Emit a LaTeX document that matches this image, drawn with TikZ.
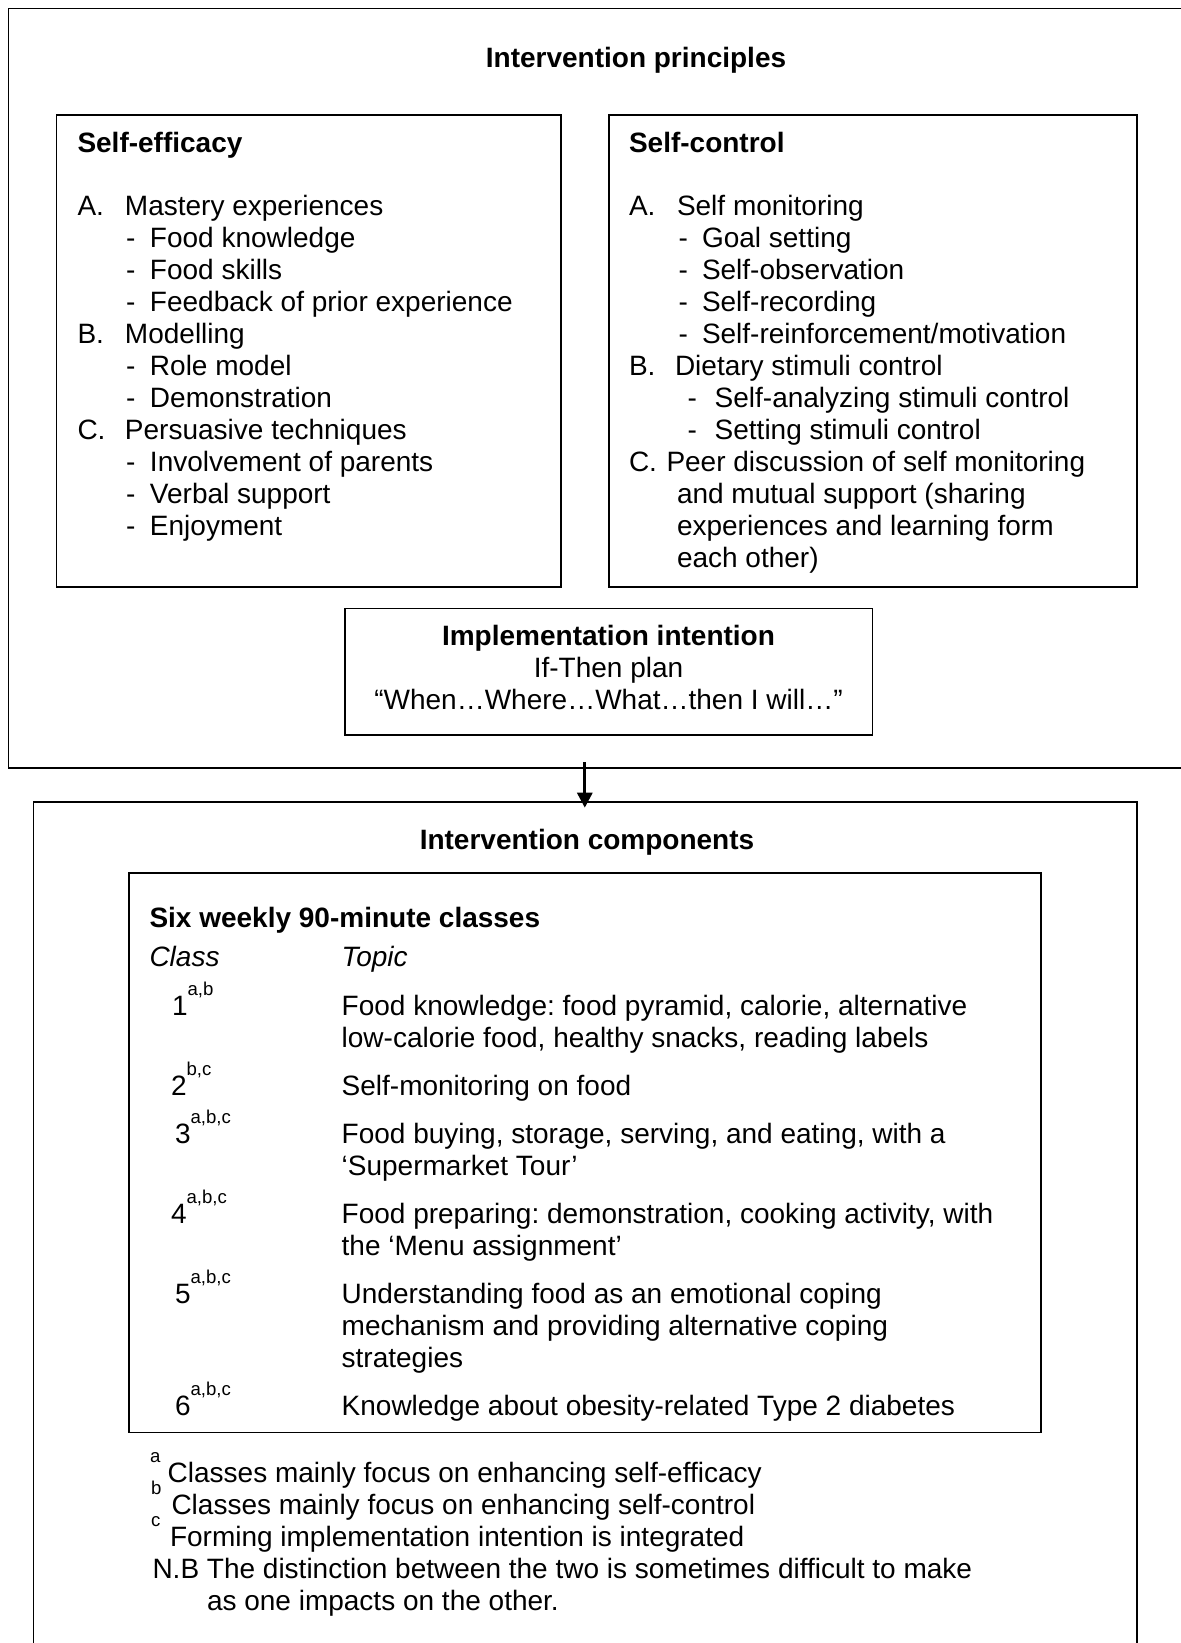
\documentclass[tikz,border=0pt]{standalone}
\usepackage{fontspec}
\setmainfont{Liberation Sans}
\usetikzlibrary{arrows.meta}
\frenchspacing
\newcommand\fs{\fontsize{14pt}{16pt}\selectfont}
\newcommand\supfont{\fontsize{9.3pt}{10pt}\selectfont}
\newcommand\sups[1]{\raisebox{10pt}{\supfont #1}}
% left box line helpers
\newcommand\lA[2]{\hbox{\makebox[23.75pt][l]{#1}#2}}
\newcommand\lAd[1]{\hbox{\hspace{24.25pt}\makebox[12pt][l]{-}#1}}
% right box line helpers
\newcommand\rA[2]{\hbox{\makebox[24pt][l]{#1}#2}}
\newcommand\rAd[1]{\hbox{\hspace{24.75pt}\makebox[11.75pt][l]{-}#1}}
\newcommand\rB[2]{\hbox{\makebox[23pt][l]{#1}#2}}
\newcommand\rBd[1]{\hbox{\hspace{29.25pt}\makebox[13.6pt][l]{-}#1}}
\newcommand\rC[2]{\hbox{\makebox[18.75pt][l]{#1}#2}}
\newcommand\rCc[1]{\hbox{\hspace{24pt}#1}}
\begin{document}
\begin{tikzpicture}[x=0.5pt,y=-0.5pt,
  frame/.style={draw, line width=0.85pt, rectangle, inner sep=0pt, outer sep=0pt, anchor=north west},
  txt/.style={anchor=base west, inner sep=0pt, outer sep=0pt, font=\fs},
  ctxt/.style={anchor=base, inner sep=0pt, outer sep=0pt, font=\fs},
  arr/.style={line width=1.5pt, -{Triangle[width=7.5pt,length=7.5pt]}}]
\useasboundingbox (0,0) rectangle (1180,1643);
\fill[white] (0,0) rectangle (1180,1643);

% frames
\node[frame, minimum width=629.8pt, minimum height=379.8pt] (outer) at (8.4,8.4) {};
\node[frame, minimum width=252.1pt, minimum height=235.85pt] (selfeff) at (56.5,115.3) {};
\node[frame, minimum width=264.15pt, minimum height=235.85pt] (selfctl) at (608.9,115.3) {};
\node[frame, minimum width=263.85pt, minimum height=63.25pt] (impl) at (344.8,608.5) {};
\node[frame, minimum width=551.85pt, minimum height=449.15pt] (lower) at (33.5,801.7) {};
\node[frame, minimum width=455.95pt, minimum height=279.8pt] (inner) at (128.8,873) {};

% arrow (starts just inside the upper frame, tip just past the lower frame's top)
\coordinate (ax) at (584.8,0);
\draw[arr] ([yshift=3pt]outer.south -| ax) -- ([yshift=-3pt]lower.north -| ax);

% top section
\node[ctxt, font=\fs\bfseries] (title) at (636,68) {Intervention principles};

\node[txt, font=\fs\bfseries] (setitle) at (77.5,152) {Self-efficacy};
\node[txt] (sebody) at (77.5,215) {\vtop{%
  \lA{A.}{Mastery experiences}
  \lAd{Food knowledge}
  \lAd{Food skills}
  \lAd{Feedback of prior experience}
  \lA{B.}{Modelling}
  \lAd{Role model}
  \lAd{Demonstration}
  \lA{C.}{Persuasive techniques}
  \lAd{Involvement of parents}
  \lAd{Verbal support}
  \lAd{Enjoyment}}};

\node[txt, font=\fs\bfseries] (sctitle) at (629,152) {Self-control};
\node[txt] (scbody) at (629,215) {\vtop{%
  \rA{A.}{Self monitoring}
  \rAd{Goal setting}
  \rAd{Self-observation}
  \rAd{Self-recording}
  \rAd{Self-reinforcement/motivation}
  \rB{B.}{Dietary stimuli control}
  \rBd{Self-analyzing stimuli control}
  \rBd{Setting stimuli control}
  \rC{C.}{Peer discussion of self monitoring}
  \rCc{and mutual support (sharing}
  \rCc{experiences and learning form}
  \rCc{each other)}}};

\node[ctxt, font=\fs\bfseries] (it1) at (608.5,645) {Implementation intention};
\node[ctxt] (it2) at (608.5,677) {If-Then plan};
\node[ctxt] (it3) at (608.5,709) {“When…Where…What…then I will…”};

% lower section
\node[ctxt, font=\fs\bfseries] (ctitle) at (587,849) {Intervention components};
\node[txt, font=\fs\bfseries] (six) at (149.5,927) {Six weekly 90-minute classes};
\node[txt, font=\fs\itshape] (hclass) at (149.5,966) {Class};
\node[txt, font=\fs\itshape] (htopic) at (341.7,966) {Topic};

\node[txt] (n1) at (172,1015.5) {1\sups{a,b}};
\node[txt] (t1) at (341.7,1015.5) {\vtop{\hbox{Food knowledge: food pyramid, calorie, alternative}\hbox{low-calorie food, healthy snacks, reading labels}}};
\node[txt] (n2) at (171,1095.5) {2\sups{b,c}};
\node[txt] (t2) at (341.7,1095.5) {Self-monitoring on food};
\node[txt] (n3) at (175,1143.5) {3\sups{a,b,c}};
\node[txt] (t3) at (341.7,1143.5) {\vtop{\hbox{Food buying, storage, serving, and eating, with a}\hbox{‘Supermarket Tour’}}};
\node[txt] (n4) at (171,1223.5) {4\sups{a,b,c}};
\node[txt] (t4) at (341.7,1223.5) {\vtop{\hbox{Food preparing: demonstration, cooking activity, with}\hbox{the ‘Menu assignment’}}};
\node[txt] (n5) at (175,1303.5) {5\sups{a,b,c}};
\node[txt] (t5) at (341.7,1303.5) {\vtop{\hbox{Understanding food as an emotional coping}\hbox{mechanism and providing alternative coping}\hbox{strategies}}};
\node[txt] (n6) at (175,1415.5) {6\sups{a,b,c}};
\node[txt] (t6) at (341.7,1415.5) {Knowledge about obesity-related Type 2 diabetes};

% footnotes
\node[txt, font=\supfont] (fa) at (150,1462) {a};
\node[txt] (f1) at (167.7,1482) {Classes mainly focus on enhancing self-efficacy};
\node[txt, font=\supfont] (fb) at (151,1494) {b};
\node[txt] (f2) at (171.5,1514) {Classes mainly focus on enhancing self-control};
\node[txt, font=\supfont] (fc) at (151,1526) {c};
\node[txt] (f3) at (170,1546) {Forming implementation intention is integrated};
\node[txt] (f4) at (152.5,1578) {N.B The distinction between the two is sometimes difficult to make};
\node[txt] (f5) at (207,1610) {as one impacts on the other.};
\end{tikzpicture}
\end{document}
